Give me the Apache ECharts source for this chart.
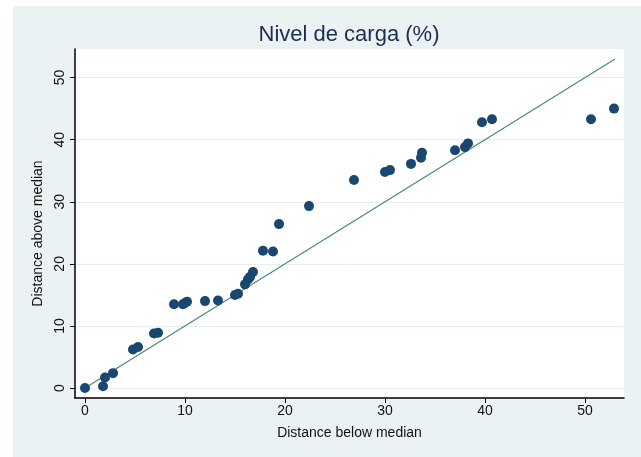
<!DOCTYPE html>
<html>
<head>
<meta charset="utf-8">
<script src="https://cdn.jsdelivr.net/npm/echarts@6/dist/echarts.min.js"></script>
<style>html,body{margin:0;padding:0;background:#fff;}#c{width:641px;height:457px;}</style>
</head>
<body>
<div id="c"></div>
<script>
var belowMedian = [0, 1.8, 2.0, 2.8, 4.8, 5.3, 6.9, 7.3, 8.9, 9.8, 10.0, 10.2, 12.0, 13.3, 15.0, 15.3, 16.0, 16.3, 16.5, 16.8, 17.8, 18.8, 19.4, 22.4, 26.9, 30.0, 30.5, 32.6, 33.6, 33.7, 37.0, 38.0, 38.3, 39.7, 40.7, 50.6, 52.9];
var aboveMedian = [0, 0.3, 1.7, 2.4, 6.2, 6.6, 8.8, 8.9, 13.5, 13.5, 13.7, 13.9, 14.0, 14.1, 15.0, 15.2, 16.7, 17.5, 17.9, 18.7, 22.1, 22.0, 26.4, 29.3, 33.5, 34.8, 35.1, 36.1, 37.1, 37.9, 38.3, 38.8, 39.4, 42.8, 43.3, 43.3, 45.0];
var refLine = [[0, 0], [53, 53]];
var xTicks = [0, 10, 20, 30, 40, 50];
var yTicks = [0, 10, 20, 30, 40, 50];

var pts = belowMedian.map(function (x, i) { return [x, aboveMedian[i]]; });
var font = 'Liberation Sans, Arial, sans-serif';
var chart = echarts.init(document.getElementById('c'), null, { renderer: 'canvas' });
chart.setOption({
  animation: false,
  backgroundColor: '#ffffff',
  graphic: [{
    type: 'rect', z: -10, silent: true,
    shape: { x: 13, y: 6, width: 628, height: 451 },
    style: { fill: '#eaf2f3' }
  }],
  title: {
    text: 'Nivel de carga (%)',
    left: 344, top: 19, textAlign: 'center',
    textStyle: { fontFamily: font, fontSize: 22, fontWeight: 'normal', color: '#1e2d50' }
  },
  grid: { left: 75, top: 49, right: 17, bottom: 59, show: true, backgroundColor: '#ffffff', borderWidth: 0 },
  xAxis: {
    type: 'value', min: -1, max: 53.9,
    name: 'Distance below median', nameLocation: 'middle', nameGap: 28,
    nameTextStyle: { fontFamily: font, fontSize: 14, color: '#111' },
    axisLine: { onZero: false, lineStyle: { color: '#000', width: 1.5 } },
    axisTick: { show: true, length: 5, customValues: xTicks, lineStyle: { color: '#000' } },
    axisLabel: { customValues: xTicks, fontFamily: font, fontSize: 14, color: '#111', margin: 6 },
    splitLine: { show: false }
  },
  yAxis: {
    type: 'value', min: -1.6, max: 54.6,
    name: 'Distance above median', nameLocation: 'middle', nameGap: 25,
    nameTextStyle: { fontFamily: font, fontSize: 14, color: '#111', padding: [0, 20, 0, 0] },
    axisLine: { show: true, onZero: false, lineStyle: { color: '#000', width: 1.5 } },
    axisTick: { show: true, length: 5, customValues: yTicks, lineStyle: { color: '#000' } },
    axisLabel: { customValues: yTicks, rotate: 90, fontFamily: font, fontSize: 14, color: '#111', margin: 8 },
    splitLine: { show: true, lineStyle: { color: '#e8eef0', width: 1 } }
  },
  series: [{
    type: 'scatter', data: pts, symbol: 'circle', symbolSize: 10,
    itemStyle: { color: '#1a476f', opacity: 1 }, z: 3
  }, {
    type: 'line', data: refLine, symbol: 'none', z: 2,
    lineStyle: { color: '#4a8a76', width: 1.2 }
  }]
});
</script>
</body>
</html>
